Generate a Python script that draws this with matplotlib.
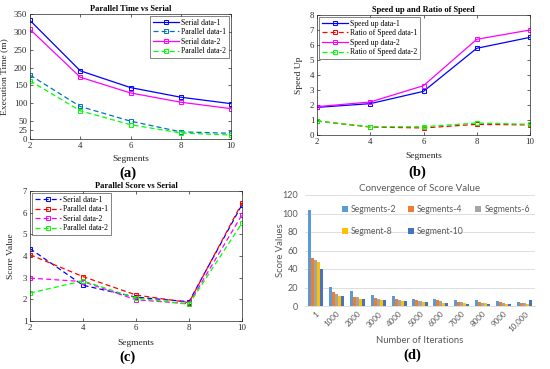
import numpy as np
import matplotlib
matplotlib.use("Agg")
import matplotlib.pyplot as plt

segments = [2, 4, 6, 8, 10]

# (a) execution time
serial_1 = [332, 191, 144, 117, 99]
parallel_1 = [179, 91, 50, 20, 16]
serial_2 = [307, 173, 129, 103, 85]
parallel_2 = [163, 79, 40, 17, 11]

# (b) speed up
speedup_1 = [1.84, 2.09, 2.91, 5.78, 6.51]
ratio_1 = [0.93, 0.53, 0.47, 0.71, 0.67]
speedup_2 = [1.89, 2.2, 3.29, 6.38, 7.0]
ratio_2 = [0.93, 0.55, 0.55, 0.8, 0.71]

# (c) score value
score_serial_1 = [4.34, 2.65, 2.1, 1.89, 6.37]
score_parallel_1 = [4.06, 3.05, 2.2, 1.85, 6.45]
score_serial_2 = [2.98, 2.82, 1.98, 1.8, 5.9]
score_parallel_2 = [2.29, 2.85, 2.06, 1.77, 5.52]

# (d) convergence
iterations = ["1", "1000", "2000", "3000", "4000", "5000", "6000", "7000", "8000", "9000", "10,000"]
conv_seg2 = [104, 21, 16, 12, 11, 8, 8, 6, 6, 5, 4]
conv_seg4 = [52, 15, 10, 9, 8, 6, 6, 4, 4, 4, 3]
conv_seg6 = [50, 13, 10, 8, 6, 5, 5, 4, 3, 3, 3]
conv_seg8 = [48, 11, 8, 6, 5, 4, 3, 3, 3, 2, 2]
conv_seg10 = [40, 11, 8, 6, 5, 4, 3, 2, 2, 2, 7]

W, H = 550, 369
SERIF = "Liberation Serif"
TXT = "#262626"


def box(l, t, r, b):
    return [l / W, 1 - b / H, (r - l) / W, (b - t) / H]


def matlab_axes(ax, ylim, yticks, ylabel, ylx, xly, title):
    ax.set_xlim(2, 10)
    ax.set_ylim(*ylim)
    ax.set_xticks(segments)
    ax.set_yticks(yticks)
    ax.tick_params(direction="in", length=2, width=0.5, top=True, right=True,
                   labelsize=6.3, colors=TXT, pad=2)
    for lab in ax.get_xticklabels() + ax.get_yticklabels():
        lab.set_family(SERIF)
    for s in ax.spines.values():
        s.set_linewidth(0.5)
        s.set_color(TXT)
    ax.set_ylabel(ylabel, family=SERIF, fontsize=6.8, color=TXT)
    ax.yaxis.set_label_coords(ylx, 0.5)
    ax.set_xlabel("Segments", family=SERIF, fontsize=6.8, color=TXT)
    ax.xaxis.set_label_coords(0.5, xly)
    ax.set_title(title, family=SERIF, fontsize=6, fontweight="bold", pad=2)


def line(ax, y, color, ls, label):
    ax.plot(segments, y, color=color, ls=ls, lw=0.9, marker="s", ms=3,
            mfc="none", mew=0.7, label=label, dashes=(4, 2.5) if ls == "--" else (None, None))


def legend(ax, loc, anchor):
    leg = ax.legend(loc=loc, bbox_to_anchor=anchor, prop={"family": SERIF, "size": 5.6},
                    fancybox=False, edgecolor=TXT, handlelength=3.4, borderpad=0.3,
                    labelspacing=0.2, handletextpad=0.3, borderaxespad=0.3)
    leg.get_frame().set_linewidth(0.5)


fig = plt.figure(figsize=(5.5, 3.69), dpi=100)

# (a)
ax = fig.add_axes(box(30, 14, 231, 139))
line(ax, serial_1, "#0000FF", "-", "Serial data-1")
line(ax, parallel_1, "#0072BD", "--", "Parallel data-1")
line(ax, serial_2, "#FF00FF", "-", "Serial data-2")
line(ax, parallel_2, "#00FF00", "--", "Parallel data-2")
matlab_axes(ax, (0, 350), [0, 25, 50, 100, 150, 200, 250, 300, 350],
            "Execution Time (m)", -0.11, -0.13, "Parallel Time vs Serial")
legend(ax, "upper right", (1, 1))
fig.text(128 / W, 1 - 173 / H, "(a)", family=SERIF, fontsize=10.5, fontweight="bold",
         ha="center", va="center")

# (b)
ax = fig.add_axes(box(317, 15, 530, 135))
line(ax, speedup_1, "#0000FF", "-", "Speed up data-1")
line(ax, ratio_1, "#FF0000", "--", "Ratio of Speed data-1")
line(ax, speedup_2, "#FF00FF", "-", "Speed up data-2")
line(ax, ratio_2, "#00FF00", "--", "Ratio of Speed data-2")
matlab_axes(ax, (0, 8), range(0, 9), "Speed Up", -0.066, -0.14, "Speed up and Ratio of Speed")
legend(ax, "upper left", (0, 1))
fig.text(417 / W, 1 - 172 / H, "(b)", family=SERIF, fontsize=10.5, fontweight="bold",
         ha="center", va="center")

# (c)
ax = fig.add_axes(box(30, 191, 242, 321))
line(ax, score_serial_1, "#0000FF", "--", "Serial data-1")
line(ax, score_parallel_1, "#FF0000", "--", "Parallel data-1")
line(ax, score_serial_2, "#FF00FF", "--", "Serial data-2")
line(ax, score_parallel_2, "#00FF00", "--", "Parallel data-2")
matlab_axes(ax, (1, 7), range(1, 8), "Score Value", -0.071, -0.14, "Parallel Score vs Serial")
legend(ax, "upper left", (0, 1))
fig.text(127 / W, 1 - 357 / H, "(c)", family=SERIF, fontsize=10.5, fontweight="bold",
         ha="center", va="center")

# (d)
ax = fig.add_axes(box(305, 195, 535, 306))
series = [("Segments-2", conv_seg2, "#5B9BD5"), ("Segments-4", conv_seg4, "#ED7D31"),
          ("Segments-6", conv_seg6, "#A5A5A5"), ("Segment-8", conv_seg8, "#FFC000"),
          ("Segment-10", conv_seg10, "#4472C4")]
x = np.arange(len(iterations))
bw = 0.145
handles = []
for i, (name, vals, col) in enumerate(series):
    h = ax.bar(x + (i - 2) * bw, vals, bw, color=col, label=name, zorder=2)
    handles.append(h)
ax.set_xlim(-0.5, len(iterations) - 0.5)
ax.set_ylim(0, 120)
ax.set_yticks(range(0, 121, 20))
ax.grid(axis="y", color="#D9D9D9", lw=0.6, zorder=0)
for s in ["top", "left", "right"]:
    ax.spines[s].set_visible(False)
ax.spines["bottom"].set_color("#D9D9D9")
ax.spines["bottom"].set_linewidth(0.6)
ax.set_xticks(x)
ax.set_xticklabels(iterations, rotation=45, ha="right", rotation_mode="anchor")
ax.tick_params(axis="x", length=0, labelsize=5.8, colors="#595959", pad=3)
ax.tick_params(axis="y", length=0, labelsize=6.5, colors="#595959", pad=5)
for lab in ax.get_xticklabels() + ax.get_yticklabels():
    lab.set_family("Lato")
ax.set_ylabel("Score Values", family="Lato", fontsize=6.8, color="#595959")
ax.yaxis.set_label_coords(-0.087, 0.5)
ax.set_xlabel("Number of Iterations", family="Lato", fontsize=6.8, color="#595959")
ax.xaxis.set_label_coords(0.5, -0.27)
ax.set_title("Convergence of Score Value", family="Lato", fontsize=7, color="#595959", pad=3)
order = [0, 3, 1, 4, 2]
ax.legend([handles[k] for k in order], [series[k][0] for k in order], ncol=3,
          loc="upper left", bbox_to_anchor=(0.14, 0.95), frameon=False, borderpad=0,
          prop={"family": "Lato", "size": 6.2}, handlelength=0.7, handleheight=0.7,
          handletextpad=0.4, columnspacing=1.3, labelspacing=1.5, labelcolor="#595959")
fig.text(412 / W, 1 - 355 / H, "(d)", family=SERIF, fontsize=10.5, fontweight="bold",
         ha="center", va="center")

fig.savefig("out.png", dpi=100)
